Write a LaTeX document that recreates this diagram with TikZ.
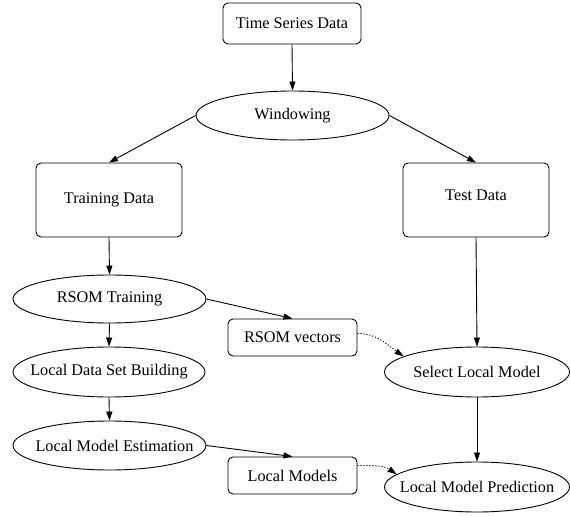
\documentclass[tikz,border=0pt]{standalone}
\usepackage{fontspec}
\setmainfont{Liberation Serif}
\usetikzlibrary{shapes.geometric,arrows.meta}
\begin{document}
\begin{tikzpicture}[x=1bp,y=-1bp,
  every node/.style={font=\fontsize{16.3}{19}\selectfont, inner sep=0pt, line width=0.9bp},
  every label/.style={draw=none},
  rbox/.style={rectangle, draw=black, rounded corners=5bp},
  oval/.style={ellipse, draw=black},
  edge/.style={draw=black, line width=0.9bp, -{Triangle[length=9bp,width=6bp]}},
  dedge/.style={edge, dash pattern=on 1.1bp off 1.9bp}
]
\useasboundingbox (0,0) rectangle (570,516);
\node[rbox, minimum width=138bp, minimum height=41bp] (ts) at (292,23.5) {Time Series Data};
\node[oval, minimum width=193bp, minimum height=49bp, label=center:Windowing] (win) at (292.5,115.5) {};
\node[rbox, minimum width=146bp, minimum height=74bp] (train) at (109,200) {Training Data};
\node[rbox, minimum width=146bp, minimum height=74bp, text depth=10bp] (test) at (476,200) {Test Data};
\node[oval, minimum width=193bp, minimum height=48bp, label=center:RSOM Training] (rsom) at (109.5,299) {};
\node[rbox, minimum width=129bp, minimum height=37bp] (rv) at (292.5,337.5) {RSOM vectors};
\node[oval, minimum width=192bp, minimum height=50bp, label=center:Local Data Set Building] (ldsb) at (109,372) {};
\node[oval, minimum width=185bp, minimum height=50bp, label=center:Select Local Model] (slm) at (477,372) {};
\node[oval, minimum width=193bp, minimum height=49bp, label={[xshift=5bp]center:Local Model Estimation}] (lme) at (109.5,445.5) {};
\node[rbox, minimum width=129bp, minimum height=37bp] (lm) at (292.5,475.5) {Local Models};
\node[oval, minimum width=185bp, minimum height=50bp, label=center:Local Model Prediction] (lmp) at (477,487) {};

\draw[edge] (ts.south) -- (win.north);
\draw[edge] (win.west) -- (train.north);
\draw[edge] (win.east) -- (test.north);
\draw[edge] (train.south) -- (rsom.north);
\draw[edge] (rsom.east) -- (rv.north);
\draw[edge] (rsom.south) -- (ldsb.north);
\draw[edge] (ldsb.south) -- (lme.north);
\draw[edge] (lme.east) -- (lm.north);
\draw[edge] (test.south) -- (slm.north);
\draw[edge] (slm.south) -- (lmp.north);
\draw[dedge] ([yshift=4bp]rv.east) to[out=0,in=145] (slm.168);
\draw[dedge] ([yshift=10bp]lm.east) to[out=0,in=145] (lmp.171);
\end{tikzpicture}
\end{document}
